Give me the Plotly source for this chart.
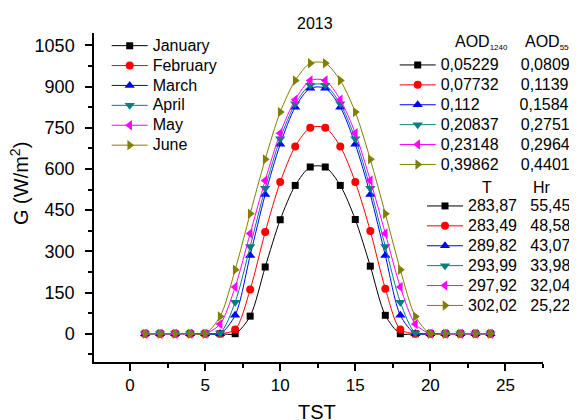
import plotly.graph_objects as go

hours = list(range(1, 25))
months = ["January", "February", "March", "April", "May", "June"]
jan = [0, 0, 0, 0, 0, 0, 0, 64, 243, 415, 540, 607, 607, 540, 416, 246, 67, 0, 0, 0, 0, 0, 0, 0]
feb = [0, 0, 0, 0, 0, 0, 15, 161, 370, 552, 682, 750, 750, 682, 552, 374, 164, 15, 0, 0, 0, 0, 0, 0]
mar = [0, 0, 0, 0, 0, 0, 67, 285, 507, 690, 825, 894, 894, 825, 690, 507, 285, 67, 0, 0, 0, 0, 0, 0]
apr = [0, 0, 0, 0, 0, 3, 115, 318, 530, 710, 837, 905, 905, 837, 710, 530, 318, 115, 3, 0, 0, 0, 0, 0]
may = [0, 0, 0, 0, 0, 35, 170, 365, 558, 730, 852, 922, 922, 852, 730, 558, 365, 170, 35, 0, 0, 0, 0, 0]
jun = [0, 0, 0, 0, 0, 63, 233, 437, 635, 807, 922, 985, 985, 922, 807, 635, 437, 233, 63, 0, 0, 0, 0, 0]
series = [jan, feb, mar, apr, may, jun]

aod1240 = ["0,05229", "0,07732", "0,112", "0,20837", "0,23148", "0,39862"]
aod550 = ["0,08099", "0,11396", "0,15846", "0,27519", "0,29649", "0,4401"]
temp_k = ["283,87", "283,49", "289,82", "293,99", "297,92", "302,02"]
hum = ["55,45", "48,58", "43,07", "33,98", "32,04", "25,22"]

colors = ["#000000", "#FF0000", "#0000FF", "#008080", "#FF00FF", "#808000"]
symbols = ["square", "circle", "triangle-up", "triangle-down", "triangle-left", "triangle-right"]
msizes = [7, 8, 9, 9, 9, 9]

FONT = "Arial, 'Liberation Sans', sans-serif"
NB = "\u00a0"

def big(s):
    return '<span style="font-size:16px">' + s + "</span>"

fig = go.Figure()
for name, ys, c, s, ms in zip(months, series, colors, symbols, msizes):
    fig.add_trace(go.Scatter(
        x=hours, y=ys, name=big(name), mode="lines+markers",
        line=dict(color=c, width=1, shape="spline", smoothing=0.8),
        marker=dict(symbol=s, size=ms, color=c),
        legend="legend"))

for a, b, c, s, ms in zip(aod1240, aod550, colors, symbols, msizes):
    fig.add_trace(go.Scatter(
        x=[None], y=[None], name=big(a + NB * (5 + 2 * (7 - len(a))) + b),
        mode="lines+markers", line=dict(color=c, width=1),
        marker=dict(symbol=s, size=ms, color=c), legend="legend2"))

for t, h, c, s, ms in zip(temp_k, hum, colors, symbols, msizes):
    fig.add_trace(go.Scatter(
        x=[None], y=[None], name=big(t + NB * 3 + h),
        mode="lines+markers", line=dict(color=c, width=1),
        marker=dict(symbol=s, size=ms, color=c), legend="legend3"))

OFF = 8  # page body margin
FW, FH = 569, 412
L, R, T, B = 86, 535, 25, 354
W, H = R - L, B - T

def px(p):
    return (p - OFF - L) / W

def py(p):
    return (B - (p - OFF)) / H

leg_common = dict(font=dict(family=FONT, size=13, color="#000"), bgcolor="rgba(0,0,0,0)",
                  borderwidth=0, tracegroupgap=0, xanchor="left", yanchor="top", itemwidth=36)

black = "#000"
fig.update_layout(
    width=FW, height=FH,
    margin=dict(l=L, r=FW - R, t=T, b=FH - B, autoexpand=False),
    paper_bgcolor="white", plot_bgcolor="white",
    font=dict(family=FONT, color=black),
    legend=dict(x=px(106.7), y=py(30.7), **leg_common),
    legend2=dict(x=px(394.7), y=py(50), **leg_common),
    legend3=dict(x=px(422), y=py(191), **leg_common),
    xaxis=dict(range=[-2.4, 27.5], tickvals=[0, 5, 10, 15, 20, 25], showgrid=False, zeroline=False,
               showline=True, linecolor=black, linewidth=1.5, ticks="outside", ticklen=7,
               tickwidth=1.5, tickcolor=black,
               minor=dict(dtick=2.5, tick0=0, ticks="outside", ticklen=4, tickwidth=1.5, tickcolor=black),
               tickfont=dict(size=17, family=FONT, color=black)),
    yaxis=dict(range=[-103, 1095], tickvals=[0, 150, 300, 450, 600, 750, 900, 1050], showgrid=False,
               zeroline=False, showline=True, linecolor=black, linewidth=1.5, ticks="outside",
               ticklen=7, tickwidth=1.5, tickcolor=black,
               minor=dict(dtick=75, tick0=0, ticks="outside", ticklen=4, tickwidth=1.5, tickcolor=black),
               tickfont=dict(size=18, family=FONT, color=black), ticklabelstandoff=7),
    annotations=[
        dict(text="2013", x=px(314.5), y=py(24), xanchor="center", yanchor="middle",
             font=dict(size=16)),
        dict(text="TST", x=px(316.5), y=py(412), xanchor="center", yanchor="middle",
             font=dict(size=20)),
        dict(text="G (W/m<sup>2</sup>)", x=px(19.5), y=py(183.5), xanchor="center", yanchor="middle",
             textangle=-90, font=dict(size=20)),
        dict(text='AOD<sub><span style="font-size:8px">1240</span></sub>', x=px(452.7), y=py(43),
             xanchor="left", yanchor="middle", font=dict(size=16)),
        dict(text='AOD<sub><span style="font-size:8px">550</span></sub>', x=px(523.3), y=py(43),
             xanchor="left", yanchor="middle", font=dict(size=16)),
        dict(text="T", x=px(480), y=py(187.7), xanchor="left", yanchor="middle", font=dict(size=16)),
        dict(text="Hr", x=px(531), y=py(187.7), xanchor="left", yanchor="middle", font=dict(size=16)),
    ],
)
for a in fig.layout.annotations:
    a.update(xref="paper", yref="paper", showarrow=False)
    a.font.family = FONT
    a.font.color = black

fig.write_html("out.html")
